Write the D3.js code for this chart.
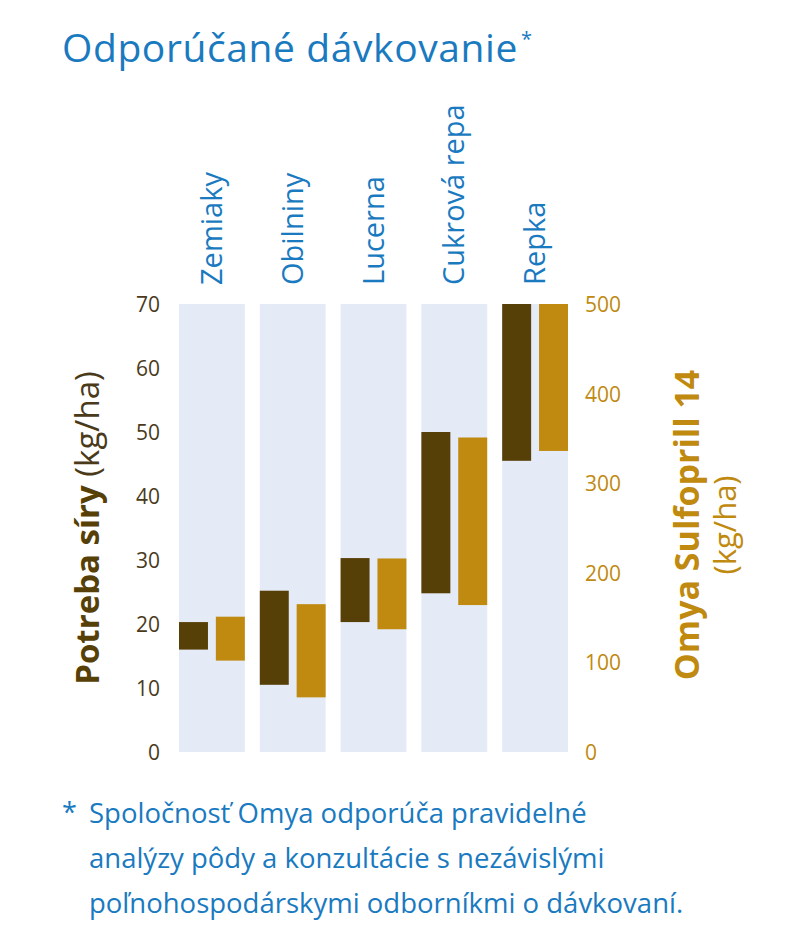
<html>
<head>
<script src="https://d3js.org/d3.v7.min.js"></script>
<style>
body { margin: 0; background: #fff; }
text { font-family: "Open Sans", "Noto Sans", sans-serif; }
</style>
</head>
<body>
<script>
const categories = ["Zemiaky", "Obilniny", "Lucerna", "Cukrová repa", "Repka"];
const sulfurMin = [16, 10.5, 20.3, 24.8, 45.5];
const sulfurMax = [20.3, 25.2, 30.3, 50, 70];
const productMin = [102, 61, 137, 164, 336];
const productMax = [151, 165, 216, 351, 500];
const leftTicks = [0, 10, 20, 30, 40, 50, 60, 70];
const rightTicks = [0, 100, 200, 300, 400, 500];

const W = 792, H = 948;
const blue = "#1a7abf", dark = "#573f08", gold = "#bf8a0f";
const svg = d3.select("body").append("svg").attr("width", W).attr("height", H);

const x = d3.scaleBand().domain(categories).range([179, 568]).paddingInner(15 / 81).paddingOuter(0);
const yL = d3.scaleLinear().domain([0, 70]).range([752, 304]);
const yR = d3.scaleLinear().domain([0, 500]).range([752, 304]);
const bw = x.bandwidth();
const barW = bw * 0.44;

svg.append("text").attr("x", 62).attr("y", 62).attr("fill", blue)
  .attr("font-size", 39).attr("textLength", 470).text("Odporúčané dávkovanie")
  .append("tspan").attr("font-size", 20).attr("dy", -16).attr("dx", 3).text("*");

const g = svg.append("g");
g.selectAll("rect.bg").data(categories).join("rect")
  .attr("x", d => x(d)).attr("y", yL(70)).attr("width", bw).attr("height", yL(0) - yL(70))
  .attr("fill", "#e4eaf6");
g.selectAll("rect.s").data(categories).join("rect")
  .attr("x", d => x(d)).attr("y", (d, i) => yL(sulfurMax[i]))
  .attr("width", barW).attr("height", (d, i) => yL(sulfurMin[i]) - yL(sulfurMax[i]))
  .attr("fill", dark);
g.selectAll("rect.p").data(categories).join("rect")
  .attr("x", d => x(d) + bw - barW).attr("y", (d, i) => yR(productMax[i]))
  .attr("width", barW).attr("height", (d, i) => yR(productMin[i]) - yR(productMax[i]))
  .attr("fill", gold);

g.selectAll("text.cat").data(categories).join("text")
  .attr("transform", d => `translate(${x(d) + bw / 2 + 10},285) rotate(-90)`)
  .attr("fill", blue).attr("font-size", 29).text(d => d);

svg.selectAll("text.l").data(leftTicks).join("text")
  .attr("x", 160).attr("y", d => yL(d) + 8).attr("text-anchor", "end")
  .attr("fill", "#4a3a1a").attr("font-size", 21).text(d => d);
svg.selectAll("text.r").data(rightTicks).join("text")
  .attr("x", 585).attr("y", d => yR(d) + 8)
  .attr("fill", gold).attr("font-size", 21).text(d => d);

const lt = svg.append("text").attr("transform", "translate(99,528) rotate(-90)")
  .attr("text-anchor", "middle").attr("font-size", 33).attr("fill", dark);
lt.append("tspan").attr("font-weight", "bold").text("Potreba síry");
lt.append("tspan").attr("fill", "#4a3a1a").text(" (kg/ha)");

svg.append("text").attr("transform", "translate(699,525) rotate(-90)")
  .attr("text-anchor", "middle").attr("font-size", 34).attr("font-weight", "bold")
  .attr("fill", gold).text("Omya Sulfoprill 14");
svg.append("text").attr("transform", "translate(736,525) rotate(-90)")
  .attr("text-anchor", "middle").attr("font-size", 31).attr("fill", gold).text("(kg/ha)");

const foot = ["Spoločnosť Omya odporúča pravidelné", "analýzy pôdy a konzultácie s nezávislými", "poľnohospodárskymi odborníkmi o dávkovaní."];
svg.append("text").attr("x", 62).attr("y", 822).attr("fill", blue).attr("font-size", 27).text("*");
svg.selectAll("text.f").data(foot).join("text")
  .attr("x", 89).attr("y", (d, i) => 823 + i * 45).attr("fill", blue).attr("font-size", 27.5).text(d => d);
</script>
</body>
</html>
